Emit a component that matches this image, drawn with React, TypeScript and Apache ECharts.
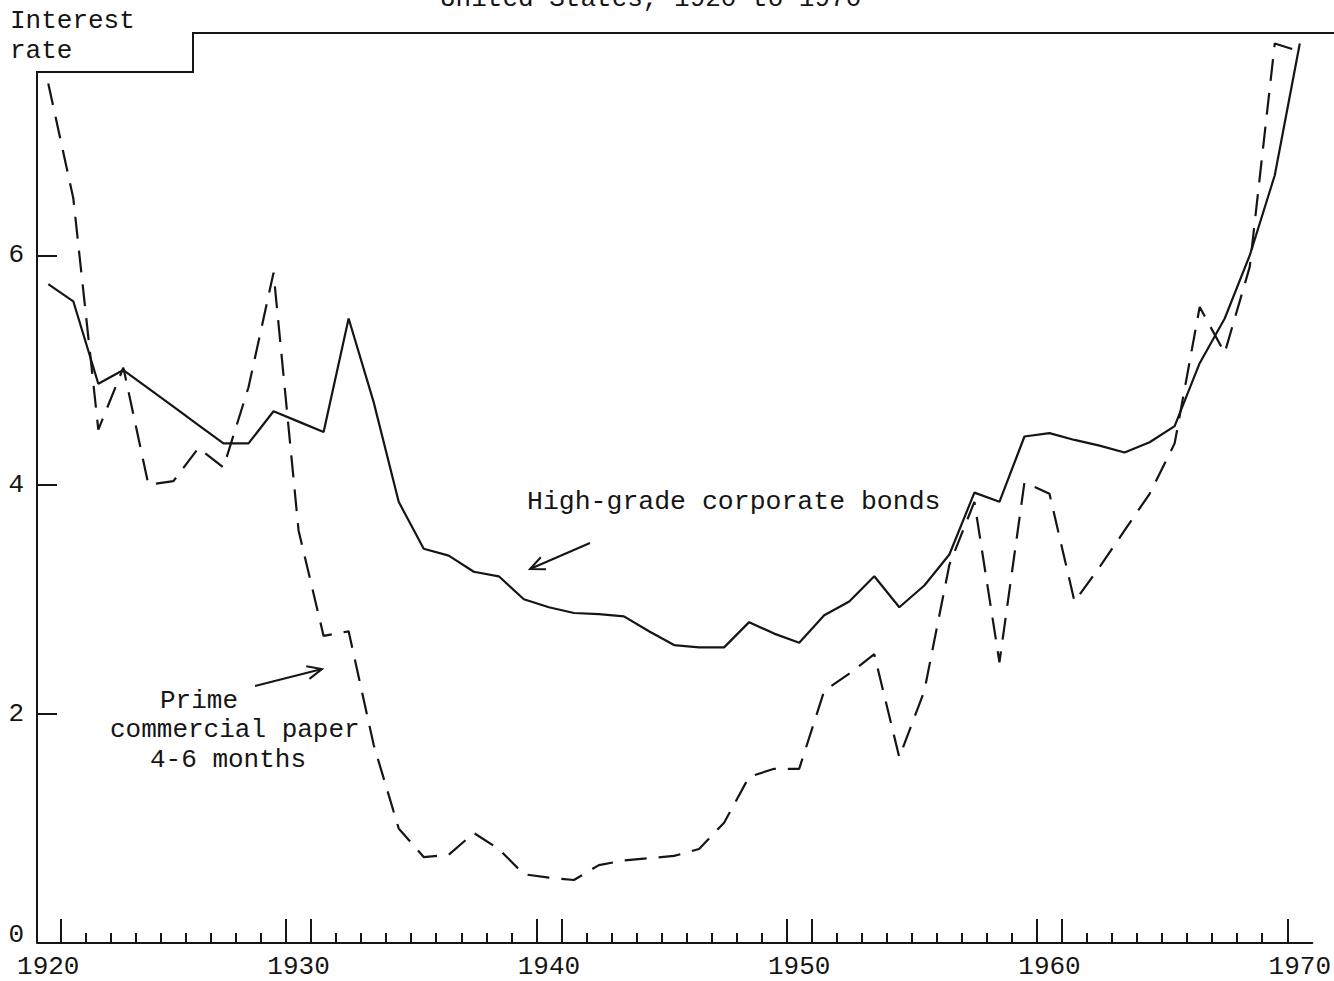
import React, { useEffect, useRef } from "react";
import * as echarts from "echarts";

// ---- data ----
const years = [
  1920, 1921, 1922, 1923, 1924, 1925, 1926, 1927, 1928, 1929,
  1930, 1931, 1932, 1933, 1934, 1935, 1936, 1937, 1938, 1939,
  1940, 1941, 1942, 1943, 1944, 1945, 1946, 1947, 1948, 1949,
  1950, 1951, 1952, 1953, 1954, 1955, 1956, 1957, 1958, 1959,
  1960, 1961, 1962, 1963, 1964, 1965, 1966, 1967, 1968, 1969,
  1970,
];

// High-grade corporate bonds (solid)
const bondRates = [
  5.75, 5.6, 4.88, 5.0, 4.84, 4.68, 4.52, 4.36, 4.36, 4.64,
  4.55, 4.46, 5.45, 4.72, 3.85, 3.44, 3.38, 3.24, 3.2, 3.0,
  2.93, 2.88, 2.87, 2.85, 2.72, 2.6, 2.58, 2.58, 2.8, 2.7,
  2.62, 2.86, 2.98, 3.2, 2.93, 3.12, 3.39, 3.93, 3.85, 4.42,
  4.45, 4.39, 4.34, 4.28, 4.37, 4.51, 5.06, 5.45, 6.0, 6.7,
  7.85,
];

// Prime commercial paper 4-6 months (dashed)
const paperRates = [
  7.5, 6.5, 4.48, 5.02, 4.0, 4.03, 4.32, 4.15, 4.85, 5.85,
  3.6, 2.68, 2.72, 1.73, 1.0, 0.75, 0.77, 0.96, 0.82, 0.6,
  0.57, 0.55, 0.68, 0.72, 0.74, 0.76, 0.82, 1.05, 1.45, 1.52,
  1.52, 2.2, 2.35, 2.52, 1.62, 2.2, 3.3, 3.85, 2.45, 4.02,
  3.92, 2.98, 3.28, 3.6, 3.92, 4.36, 5.55, 5.15, 5.9, 7.85,
  7.78,
];

const decadeLabels = [1920, 1930, 1940, 1950, 1960, 1970];
// the typed "0" sits a little above the baseline in the original
const yLabelSpots = [0.07, 2, 4, 6];
const yTickMarks = [2, 4, 6];
// small tick marks along the year axis (half-years)
const smallTicks = [
  1921.5, 1922.5, 1923.5, 1924.5, 1925.5, 1926.5, 1927.5, 1928.5,
  1931.5, 1932.5, 1933.5, 1934.5, 1935.5, 1936.5, 1937.5, 1938.5,
  1941.5, 1942.5, 1943.5, 1944.5, 1945.5, 1946.5, 1947.5, 1948.5,
  1951.5, 1952.5, 1953.5, 1954.5, 1955.5, 1956.5, 1957.5, 1958.5,
  1961.5, 1962.5, 1963.5, 1964.5, 1965.5, 1966.5, 1967.5, 1968.5,
];
const tallTicks = [
  1920.5, 1929.5, 1930.5, 1939.5, 1940.5, 1949.5, 1950.5, 1959.5, 1960.5, 1969.5,
];

const FONT = "'Liberation Mono', 'DejaVu Sans Mono', monospace";
const INK = "#151515";

function arrowHead(tipX: number, tipY: number, tailX: number, tailY: number) {
  const dx = tailX - tipX;
  const dy = tailY - tipY;
  const len = Math.hypot(dx, dy);
  const ux = dx / len;
  const uy = dy / len;
  const L = 16;
  const a = (24 * Math.PI) / 180;
  const r1 = [ux * Math.cos(a) - uy * Math.sin(a), ux * Math.sin(a) + uy * Math.cos(a)];
  const r2 = [ux * Math.cos(-a) - uy * Math.sin(-a), ux * Math.sin(-a) + uy * Math.cos(-a)];
  return {
    type: "polyline",
    shape: {
      points: [
        [tipX + r1[0] * L, tipY + r1[1] * L],
        [tipX, tipY],
        [tipX + r2[0] * L, tipY + r2[1] * L],
      ],
    },
    style: { stroke: INK, lineWidth: 2, fill: null },
  };
}

export default function App() {
  const ref = useRef<HTMLDivElement>(null);

  useEffect(() => {
    if (!ref.current) return;
    const chart = echarts.init(ref.current, undefined, { renderer: "svg" });

    const bondData = years.map((y, i) => [y, bondRates[i]]);
    const paperData = years.map((y, i) => [y, paperRates[i]]);

    const xBase = {
      type: "value",
      min: 1919.55,
      max: 1970.5,
      gridIndex: 0,
      splitLine: { show: false },
      position: "bottom",
    };

    const textStyle = { fontFamily: FONT, fontSize: 26, fill: INK };

    chart.setOption({
      animation: false,
      backgroundColor: "#ffffff",
      grid: { left: 37, right: 0, top: 32, height: 911 },
      xAxis: [
        {
          ...xBase,
          axisLine: { show: true, lineStyle: { color: INK, width: 2 } },
          axisTick: { show: false },
          axisLabel: {
            customValues: decadeLabels,
            formatter: (v: number) => String(Math.round(v)),
            fontFamily: FONT,
            fontSize: 26,
            lineHeight: 20,
            color: INK,
            margin: 14,
            showMaxLabel: true,
            showMinLabel: true,
            hideOverlap: false,
          },
        },
        {
          ...xBase,
          axisLine: { show: false },
          axisTick: {
            show: true,
            inside: true,
            length: 10,
            customValues: smallTicks,
            lineStyle: { color: INK, width: 2 },
          },
          axisLabel: { show: false },
        },
        {
          ...xBase,
          axisLine: { show: false },
          axisTick: {
            show: true,
            inside: true,
            length: 24,
            customValues: tallTicks,
            lineStyle: { color: INK, width: 2 },
          },
          axisLabel: { show: false },
        },
      ],
      yAxis: {
        type: "value",
        min: 0,
        max: 7.95,
        interval: 2,
        splitLine: { show: false },
        axisLine: { show: false },
        axisTick: {
          show: true,
          inside: true,
          length: 20,
          customValues: yTickMarks,
          lineStyle: { color: INK, width: 2 },
        },
        axisLabel: {
          customValues: yLabelSpots,
          formatter: (v: number) => String(Math.round(v)),
          fontFamily: FONT,
          fontSize: 26,
          lineHeight: 18,
          color: INK,
          margin: 13,
        },
      },
      series: [
        {
          name: "High-grade corporate bonds",
          type: "line",
          data: bondData,
          showSymbol: false,
          clip: false,
          lineStyle: { color: INK, width: 2.2 },
          z: 3,
        },
        {
          name: "Prime commercial paper 4-6 months",
          type: "line",
          data: paperData,
          showSymbol: false,
          clip: false,
          lineStyle: { color: INK, width: 2.2, type: [22, 12] },
          z: 3,
        },
      ],
      graphic: [
        {
          type: "polyline",
          shape: {
            points: [
              [37, 943],
              [37, 72],
              [193, 72],
              [193, 33],
              [1334, 33],
            ],
          },
          style: { stroke: INK, lineWidth: 2, fill: null },
        },
        {
          type: "text",
          left: 440,
          top: -14,
          style: { text: "United States, 1920 to 1970", ...textStyle },
        },
        { type: "text", left: 10, top: 8, style: { text: "Interest", ...textStyle } },
        { type: "text", left: 10, top: 38, style: { text: "rate", ...textStyle } },
        {
          type: "text",
          left: 527,
          top: 488,
          style: { text: "High-grade corporate bonds", ...textStyle, fontSize: 26.5 },
        },
        {
          type: "line",
          shape: { x1: 590, y1: 543, x2: 530, y2: 569 },
          style: { stroke: INK, lineWidth: 2 },
        },
        arrowHead(530, 569, 590, 543),
        {
          type: "text",
          left: 160,
          top: 688,
          style: { text: "Prime", ...textStyle },
        },
        {
          type: "text",
          left: 110,
          top: 717,
          style: { text: "commercial paper", ...textStyle },
        },
        {
          type: "text",
          left: 150,
          top: 747,
          style: { text: "4-6 months", ...textStyle },
        },
        {
          type: "line",
          shape: { x1: 255, y1: 686, x2: 322, y2: 669 },
          style: { stroke: INK, lineWidth: 2 },
        },
        arrowHead(322, 669, 255, 686),
      ],
    });

    return () => chart.dispose();
  }, []);

  return (
    <div
      ref={ref}
      style={{ position: "fixed", left: 0, top: 0, width: 1334, height: 981, background: "#fff" }}
    />
  );
}
